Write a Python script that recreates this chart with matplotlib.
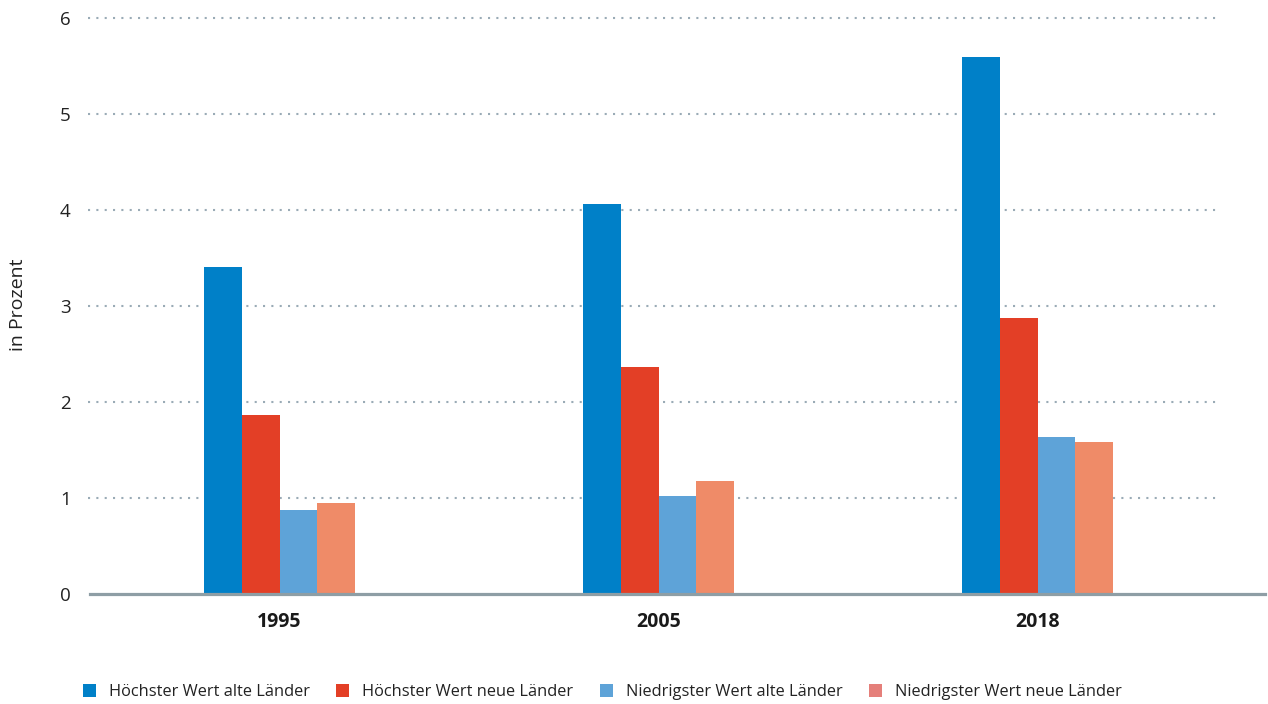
import matplotlib
matplotlib.use("Agg")
import matplotlib.pyplot as plt
import numpy as np

plt.rcParams['font.family'] = ['Open Sans', 'DejaVu Sans']

years = ["1995", "2005", "2018"]
series_names = ["Höchster Wert alte Länder", "Höchster Wert neue Länder",
                "Niedrigster Wert alte Länder", "Niedrigster Wert neue Länder"]
hoechst_alt = [3.41, 4.06, 5.59]
hoechst_neu = [1.86, 2.36, 2.88]
niedrig_alt = [0.87, 1.02, 1.64]
niedrig_neu = [0.95, 1.18, 1.58]
yticks = [0, 1, 2, 3, 4, 5, 6]
ylabel = "in Prozent"

colors = ["#0080c8", "#e33f26", "#5ea3d8", "#ef8b68"]
legend_colors = ["#0080c8", "#e33f26", "#5ea3d8", "#e57f7a"]

fig = plt.figure(figsize=(12.68, 7.04), dpi=100)
ax = fig.add_axes([90/1268, 110/704, (1265-90)/1268, (594-18)/704])

x = np.arange(len(years))
w = 0.1
data = [hoechst_alt, hoechst_neu, niedrig_alt, niedrig_neu]
handles = []
for i, (vals, c, name) in enumerate(zip(data, colors, series_names)):
    b = ax.bar(x + (i - 1.5) * w, vals, width=w, color=c, label=name, zorder=2)
    handles.append(b)

ax.set_xlim(-0.5, 2.6)
ax.set_ylim(0, 6)
ax.set_yticks(yticks)
ax.set_yticklabels([str(t) for t in yticks], fontsize=13.5, color="#222222")
ax.set_xticks(x)
ax.set_xticklabels(years, fontsize=14, fontweight="bold", color="#1a1a1a")
ax.tick_params(axis="both", length=0)
ax.tick_params(axis="y", pad=14)
ax.tick_params(axis="x", pad=13)

xmax_frac = (1220 - 90) / (1265 - 90)
for t in yticks[1:]:
    ax.axhline(t, xmin=-2/1175, xmax=xmax_frac, color="#9aabb6", lw=1.5,
               linestyle=(0, (1, 3)), zorder=1, clip_on=False)

for s in ["top", "right", "left"]:
    ax.spines[s].set_visible(False)
ax.spines["bottom"].set_color("#8e9ea5")
ax.spines["bottom"].set_linewidth(2.3)
ax.spines["bottom"].set_zorder(3)

fig.text(18/1268, (704-305)/704, ylabel, rotation=90, ha="center", va="center",
         fontsize=14, color="#222222")

leg = fig.legend(handles=handles, labels=series_names, loc="center left",
                 bbox_to_anchor=(76/1268, 12/704), ncol=4, frameon=False,
                 fontsize=11.8, handlelength=0.8, handleheight=0.8,
                 handletextpad=0.8, columnspacing=1.6, borderaxespad=0,
                 labelcolor="#222222")
for p, c in zip(leg.get_patches(), legend_colors):
    p.set_facecolor(c)

fig.savefig("out.png", dpi=100)
